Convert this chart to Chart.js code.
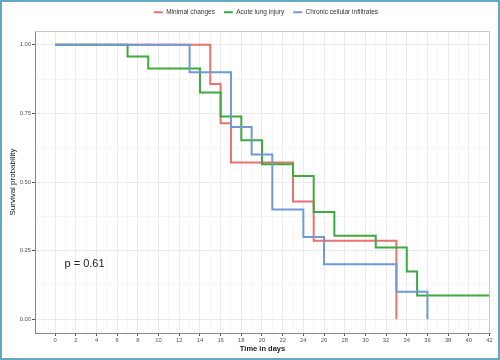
<!DOCTYPE html>
<html><head><meta charset="utf-8">
<script src="https://cdn.jsdelivr.net/npm/chart.js@4"></script>
<style>html,body{margin:0;padding:0;background:#fff}#wrap{width:500px;height:360px;position:relative}</style>
</head><body><div id="wrap"><canvas id="c" width="500" height="360"></canvas></div>
<script>
const seriesNames = ['Minimal changes', 'Acute lung injury', 'Chronic cellular infiltrates'];
const seriesColors = ['#E8736E', '#3CAA3E', '#6F9AD3'];
const minimalTimes = [0, 15, 16, 17, 23, 25, 33];
const minimalSurv = [1, 0.857, 0.714, 0.571, 0.429, 0.286, 0];
const acuteTimes = [0, 7, 9, 14, 16, 18, 20, 23, 25, 27, 31, 34, 35, 42];
const acuteSurv = [1, 0.957, 0.913, 0.826, 0.739, 0.652, 0.565, 0.522, 0.391, 0.304, 0.261, 0.174, 0.087, 0.087];
const chronicTimes = [0, 13, 17, 19, 21, 24, 26, 33, 36];
const chronicSurv = [1, 0.9, 0.7, 0.6, 0.4, 0.3, 0.2, 0.1, 0];
const xMajor = [0, 2, 4, 6, 8, 10, 12, 14, 16, 18, 20, 22, 24, 26, 28, 30, 32, 34, 36, 38, 40, 42];
const xTickLabels = ['0','2','4','6','8','10','12','14','16','18','20','22','24','26','28','30','32','34','36','38','40','42'];
const xMinor = [-1, 1, 3, 5, 7, 9, 11, 13, 15, 17, 19, 21, 23, 25, 27, 29, 31, 33, 35, 37, 39, 41];
const yMajor = [0, 0.25, 0.5, 0.75, 1];
const yTickLabels = ['0.00', '0.25', '0.50', '0.75', '1.00'];
const yMinor = [0.125, 0.375, 0.625, 0.875];
const pValueText = 'p = 0.61';

const FONT = "'Liberation Sans', Arial, Helvetica, sans-serif";
Chart.defaults.font.family = FONT;

const seriesTimes = [minimalTimes, acuteTimes, chronicTimes];
const seriesSurv = [minimalSurv, acuteSurv, chronicSurv];
const datasets = seriesNames.map((name, k) => ({
  label: name,
  data: seriesTimes[k].map((t, i) => ({x: t, y: seriesSurv[k][i]})),
  borderColor: seriesColors[k],
  backgroundColor: seriesColors[k],
  borderWidth: 2,
  stepped: true,
  pointRadius: 0,
  fill: false,
  order: 3 - k
}));

const isMajor = (arr, v) => arr.some(m => Math.abs(m - v) < 1e-9);

const custom = {
  id: 'custom',
  beforeInit(chart) {
    const lg = chart.legend;
    const f = lg.fit;
    lg.fit = function () { f.call(this); this.height = 31; };
  },
  afterLayout(chart) {
    chart.legend.left = 42;
  },
  afterDatasetsDraw(chart) {
    const {ctx, chartArea: a, scales} = chart;
    ctx.save();
    ctx.strokeStyle = '#C8C8C8';
    ctx.lineWidth = 1;
    ctx.beginPath();
    ctx.moveTo(a.left, a.top + 0.5);
    ctx.lineTo(a.right - 0.5, a.top + 0.5);
    ctx.lineTo(a.right - 0.5, a.bottom);
    ctx.stroke();
    ctx.fillStyle = '#222';
    ctx.font = '11px ' + FONT;
    ctx.textAlign = 'left';
    ctx.textBaseline = 'middle';
    ctx.fillText(pValueText, scales.x.getPixelForValue(0.9), scales.y.getPixelForValue(0.2));
    ctx.restore();
  },
  afterDraw(chart) {
    const {ctx, width, height} = chart;
    ctx.save();
    ctx.strokeStyle = '#64A6C4';
    ctx.lineWidth = 2;
    ctx.strokeRect(1, 1, width - 2, height - 2);
    ctx.restore();
  }
};

new Chart(document.getElementById('c'), {
  type: 'line',
  data: {datasets},
  options: {
    responsive: false,
    animation: false,
    layout: {padding: {left: 0, right: 10, top: 0, bottom: 0}},
    plugins: {
      tooltip: {enabled: false},
      legend: {
        position: 'top',
        align: 'center',
        labels: {
          boxWidth: 9,
          boxHeight: 2,
          padding: 9,
          color: '#333',
          font: {size: 6.5, family: FONT},
          sort: (a, b) => a.datasetIndex - b.datasetIndex,
          generateLabels: (chart) => Chart.defaults.plugins.legend.labels.generateLabels(chart).map(l => Object.assign(l, {lineWidth: 0}))
        }
      }
    },
    scales: {
      x: {
        type: 'linear',
        min: -1.95,
        max: 42.05,
        afterBuildTicks: (s) => { s.ticks = xMinor.concat(xMajor).sort((a, b) => a - b).map(v => ({value: v})); },
        afterFit: (s) => { s.height = 27; },
        ticks: {
          autoSkip: false, maxRotation: 0, padding: 1, color: '#555',
          font: {size: 5.8},
          callback: (v) => { const i = xMajor.indexOf(v); return i >= 0 ? xTickLabels[i] : ''; }
        },
        grid: {
          color: (c) => isMajor(xMajor, c.tick.value) ? '#EBEBEB' : '#F6F6F6',
          tickColor: (c) => isMajor(xMajor, c.tick.value) ? '#555' : 'rgba(0,0,0,0)',
          tickLength: 3,
          lineWidth: 1
        },
        border: {color: '#888', width: 1},
        title: {display: true, text: 'Time in days', color: '#222', font: {size: 7.5, weight: 'bold'}, padding: {top: 0, bottom: 6.5}}
      },
      y: {
        type: 'linear',
        min: -0.05,
        max: 1.05,
        afterBuildTicks: (s) => { s.ticks = yMajor.concat(yMinor).sort((a, b) => a - b).map(v => ({value: v})); },
        afterFit: (s) => { s.width = 35; },
        ticks: {
          autoSkip: false, padding: 1, color: '#555',
          font: {size: 5.8},
          callback: (v) => { const i = yMajor.indexOf(v); return i >= 0 ? yTickLabels[i] : ''; }
        },
        grid: {
          color: (c) => isMajor(yMajor, c.tick.value) ? '#EBEBEB' : '#F6F6F6',
          tickColor: (c) => isMajor(yMajor, c.tick.value) ? '#555' : 'rgba(0,0,0,0)',
          tickLength: 3,
          lineWidth: 1
        },
        border: {color: '#888', width: 1},
        title: {display: true, text: 'Survival probability', color: '#222', font: {size: 8}, padding: {top: 7.5, bottom: 0}}
      }
    }
  },
  plugins: [custom]
});
</script>
</body></html>
